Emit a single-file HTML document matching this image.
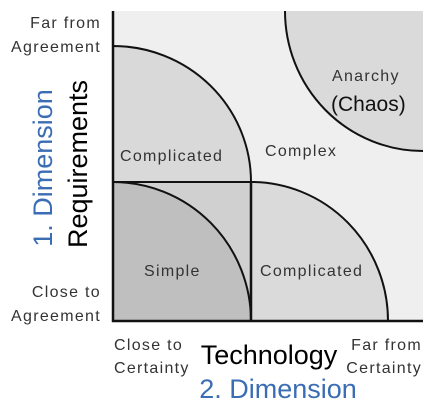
<!DOCTYPE html>
<html><head><style>
html,body{margin:0;padding:0;background:#fff;}
svg{display:block;}
</style></head><body>
<svg width="430" height="408" viewBox="0 0 430 408" xmlns="http://www.w3.org/2000/svg">
<rect x="113" y="11" width="310" height="310" fill="#efefef"/>
<path d="M113,182 L113,46 A138,136 0 0 1 251,182 Z" fill="#d9d9d9" stroke="#111" stroke-width="2"/>
<rect x="113" y="182" width="138" height="139" fill="#d0d0d0"/>
<path d="M113,321 L113,182 A138,139 0 0 1 251,321 Z" fill="#bfbfbf"/>
<path d="M113,182 A138,139 0 0 1 251,321" fill="none" stroke="#111" stroke-width="2"/>
<path d="M251,321 L251,182 A137,139 0 0 1 388,321 Z" fill="#dadada"/>
<path d="M251,182 A137,139 0 0 1 388,321" fill="none" stroke="#111" stroke-width="2"/>
<path d="M285,11 A138,140 0 0 0 423,151 L423,11 Z" fill="#dadada"/>
<path d="M285,11 A138,140 0 0 0 423,151" fill="none" stroke="#111" stroke-width="2"/>
<line x1="113" y1="182" x2="251" y2="182" stroke="#111" stroke-width="2"/>
<line x1="251" y1="182" x2="251" y2="321" stroke="#111" stroke-width="2.5"/>
<line x1="113" y1="11" x2="113" y2="322" stroke="#111" stroke-width="2.5"/>
<line x1="112" y1="321" x2="423" y2="321" stroke="#111" stroke-width="2.5"/>
<g font-family="Liberation Sans, sans-serif" font-size="16" fill="#333" letter-spacing="1.3">
<text x="101" y="28" text-anchor="end">Far from</text>
<text x="101" y="52" text-anchor="end">Agreement</text>
<text x="101" y="297" text-anchor="end">Close to</text>
<text x="101" y="321" text-anchor="end">Agreement</text>
<text x="114" y="350">Close to</text>
<text x="114" y="373">Certainty</text>
<text x="422" y="350" text-anchor="end">Far from</text>
<text x="422" y="373" text-anchor="end">Certainty</text>
<text x="120" y="161">Complicated</text>
<text x="265" y="156">Complex</text>
<text x="144" y="276">Simple</text>
<text x="260" y="276">Complicated</text>
<text x="332" y="81">Anarchy</text>
<text x="331" y="111" font-size="21" fill="#111" letter-spacing="0">(Chaos)</text>
</g>
<text x="269" y="364" text-anchor="middle" font-family="Liberation Sans, sans-serif" font-size="27" fill="#000">Technology</text>
<text x="278" y="398" text-anchor="middle" font-family="Liberation Sans, sans-serif" font-size="27" fill="#3a6db4">2. Dimension</text>
<text transform="translate(87,164) rotate(-90)" text-anchor="middle" font-family="Liberation Sans, sans-serif" font-size="27" fill="#000">Requirements</text>
<text transform="translate(52,168) rotate(-90)" text-anchor="middle" font-family="Liberation Sans, sans-serif" font-size="27" fill="#3a6db4">1. Dimension</text>
</svg>
</body></html>
